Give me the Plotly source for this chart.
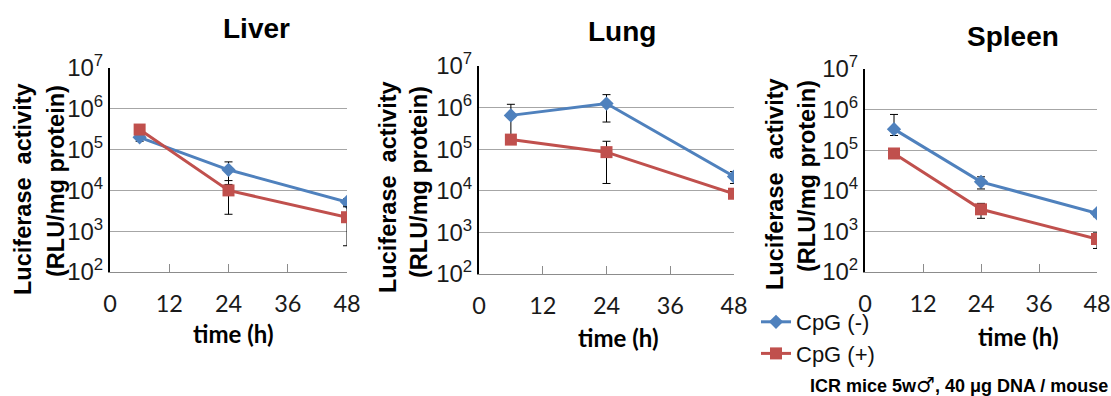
import plotly.graph_objects as go

W, H = 1111, 396

# sampling times (h)
hours = [6, 24, 48]

# luciferase activity (RLU/mg protein) and error bar extents
liver_neg = [2.0e5, 3.2e4, 5.2e3]
liver_neg_up = [4.0e4, 1.8e4, 1.0e3]
liver_neg_dn = [4.0e4, 1.8e4, 1.0e3]
liver_pos = [3.1e5, 1.0e4, 2.2e3]
liver_pos_up = [5.0e4, 7.4e3, 1.76e3]
liver_pos_dn = [5.0e4, 7.4e3, 1.76e3]

lung_neg = [6.5e5, 1.25e6, 2.2e4]
lung_neg_up = [5.5e5, 8.0e5, 7.0e3]
lung_neg_dn = [4.5e5, 8.0e5, 7.0e3]
lung_pos = [1.7e5, 8.5e4, 8.5e3]
lung_pos_up = [2.0e4, 7.0e4, 1.0e3]
lung_pos_dn = [2.0e4, 7.0e4, 1.0e3]

spleen_neg = [3.3e5, 1.66e4, 2.8e3]
spleen_neg_up = [4.3e5, 5.5e3, 5.0e2]
spleen_neg_dn = [1.0e5, 5.5e3, 5.0e2]
spleen_pos = [8.3e4, 3.5e3, 6.5e2]
spleen_pos_up = [1.0e4, 1.4e3, 2.7e2]
spleen_pos_dn = [1.0e4, 1.4e3, 2.7e2]

organs = ["Liver", "Lung", "Spleen"]
series_names = ["CpG (-)", "CpG (+)"]
x_ticks = [0, 12, 24, 36, 48]
y_ticks = [1e2, 1e3, 1e4, 1e5, 1e6, 1e7]
y_ticktext = ["10<sup>%d</sup>" % p for p in range(2, 8)]

BLUE = "#4F81BD"
RED = "#C0504D"
GRID = "#a6a6a6"


def px_x(v):
    return v / W


def px_y(v):
    return 1 - v / H


# plot-area boxes in pixels: (left, right, top, bottom)
boxes = [(110, 347, 68, 272), (479, 734, 66, 274), (865, 1097, 69, 272)]

panel_data = [
    (liver_neg, liver_neg_up, liver_neg_dn, liver_pos, liver_pos_up, liver_pos_dn),
    (lung_neg, lung_neg_up, lung_neg_dn, lung_pos, lung_pos_up, lung_pos_dn),
    (spleen_neg, spleen_neg_up, spleen_neg_dn, spleen_pos, spleen_pos_up, spleen_pos_dn),
]

fig = go.Figure()
layout = dict(
    width=W, height=H, autosize=False,
    margin=dict(l=0, r=0, t=0, b=0, pad=0),
    paper_bgcolor="white", plot_bgcolor="white",
    showlegend=True,
    legend=dict(
        x=px_x(756), y=px_y(301), xanchor="left", yanchor="top",
        font=dict(family="Liberation Sans, Arial", size=22, color="#111"),
        bgcolor="rgba(0,0,0,0)", itemwidth=30, tracegroupgap=0,
    ),
)

for i, (box, data) in enumerate(zip(boxes, panel_data)):
    sfx = "" if i == 0 else str(i + 1)
    xa, ya = "x" + sfx, "y" + sfx
    neg, neg_up, neg_dn, pos, pos_up, pos_dn = data
    for name, vals, up, dn, color, symbol, msize in [
        (series_names[0], neg, neg_up, neg_dn, BLUE, "diamond", 11),
        (series_names[1], pos, pos_up, pos_dn, RED, "square", 12),
    ]:
        fig.add_trace(go.Scatter(
            x=hours, y=vals, name=name, xaxis=xa, yaxis=ya,
            mode="lines+markers", showlegend=(i == 0),
            line=dict(color=color, width=3),
            marker=dict(symbol=symbol, size=msize, color=color),
            error_y=dict(type="data", symmetric=False, array=up, arrayminus=dn,
                         color="black", thickness=1, width=4),
        ))
    left, right, top, bottom = box
    layout["xaxis" + sfx] = dict(
        domain=[px_x(left), px_x(right)], anchor=ya, automargin=False,
        range=[0, 48], tickvals=x_ticks, ticks="inside", ticklen=8,
        tickcolor="#8c8c8c", showline=True, linecolor="#8c8c8c", linewidth=1,
        showgrid=False, zeroline=False, ticklabelstandoff=11,
        tickfont=dict(family="Lato, Carlito, sans-serif", size=23.5, color="#1a1a1a"),
    )
    layout["yaxis" + sfx] = dict(
        domain=[px_y(bottom), px_y(top)], anchor=xa, type="log", automargin=False,
        range=[2, 7], tickvals=y_ticks, ticktext=y_ticktext, ticks="",
        showline=True, linecolor="black", linewidth=2,
        showgrid=True, gridcolor=GRID, gridwidth=1, zeroline=False,
        tickfont=dict(family="Liberation Sans, Arial", size=24, color="#1a1a1a"),
    )

fig.update_layout(**layout)

# panel titles
title_pos = [(256, 28), (622, 32), (1013, 36)]
for name, (tx, ty) in zip(organs, title_pos):
    fig.add_annotation(x=px_x(tx), y=px_y(ty), xref="paper", yref="paper",
                       text="<b>%s</b>" % name, showarrow=False,
                       xanchor="center", yanchor="middle",
                       font=dict(family="Liberation Sans, Arial", size=28, color="black"))

# y-axis titles, two lines each
ylab1 = [(23, 189), (388, 187), (775, 184)]
ylab2 = [(56, 181), (419, 182), (807, 176)]
for (x1, y1), (x2, y2) in zip(ylab1, ylab2):
    fig.add_annotation(x=px_x(x1), y=px_y(y1), xref="paper", yref="paper",
                       text="<b>Luciferase  activity</b>", textangle=-90, showarrow=False,
                       xanchor="center", yanchor="middle",
                       font=dict(family="Liberation Sans, Arial", size=23.5, color="black"))
    fig.add_annotation(x=px_x(x2), y=px_y(y2), xref="paper", yref="paper",
                       text="<b>(RLU/mg protein)</b>", textangle=-90, showarrow=False,
                       xanchor="center", yanchor="middle",
                       font=dict(family="Liberation Sans, Arial", size=23.5, color="black"))

# x-axis titles
xlab = [(233, 333), (618, 337), (1018, 336)]
for (tx, ty) in xlab:
    fig.add_annotation(x=px_x(tx), y=px_y(ty), xref="paper", yref="paper",
                       text="<b>time (h)</b>", showarrow=False,
                       xanchor="center", yanchor="middle",
                       font=dict(family="Lato, Carlito, sans-serif", size=24, color="black"))

# footnote
fig.add_annotation(x=px_x(1110), y=px_y(385), xref="paper", yref="paper",
                   text=("<b>ICR mice 5w<span style=\"font-family:DejaVu Sans;font-size:21px\">♂</span>"
                         ", 40 μg DNA / mouse</b>"),
                   showarrow=False, xanchor="right", yanchor="middle",
                   font=dict(family="Liberation Sans, Arial", size=18, color="black"))

fig.write_html("out.html")
